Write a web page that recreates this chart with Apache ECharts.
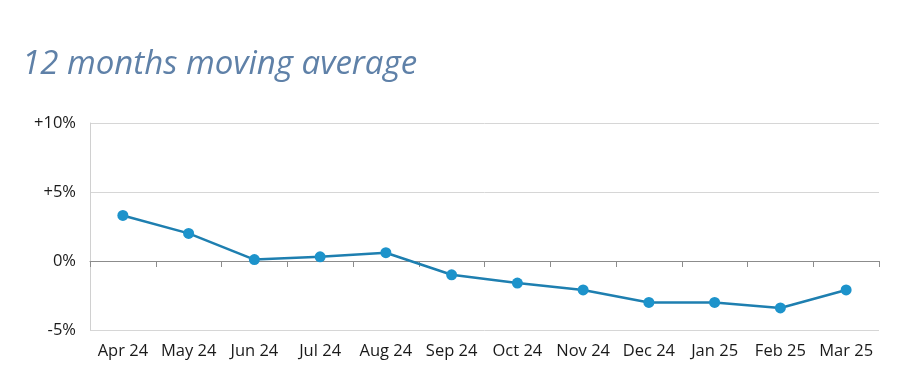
<!DOCTYPE html>
<html>
<head>
<meta charset="utf-8">
<script src="https://cdn.jsdelivr.net/npm/echarts@6/dist/echarts.min.js"></script>
<style>html,body{margin:0;padding:0;background:#fff;}#c{width:900px;height:390px;}</style>
</head>
<body>
<div id="c"></div>
<script>
var titleText = '12 months moving average';
var categories = ['Apr 24','May 24','Jun 24','Jul 24','Aug 24','Sep 24','Oct 24','Nov 24','Dec 24','Jan 25','Feb 25','Mar 25'];
var values = [3.3, 2.0, 0.1, 0.3, 0.6, -1.0, -1.6, -2.1, -3.0, -3.0, -3.4, -2.1];
var yTicks = {'10':'+10%','5':'+5%','0':'0%','-5':'-5%'};

var chart = echarts.init(document.getElementById('c'), null, {renderer:'canvas'});
chart.setOption({
  animation: false,
  backgroundColor: '#fff',
  title: {
    text: titleText, left: 17, top: 43,
    textStyle: {fontFamily: 'Open Sans', fontStyle: 'italic', fontWeight: 'normal', fontSize: 33, color: '#5f81a8'}
  },
  grid: {left: 90, right: 21, top: 123, bottom: 60},
  xAxis: [{
    type: 'category', data: categories, boundaryGap: true,
    axisLine: {show: false, onZero: false}, axisTick: {show: false},
    axisLabel: {fontFamily: 'Open Sans', fontSize: 16.5, color: '#1a1a1a', margin: 13, interval: 0}
  }, {
    type: 'category', data: categories, boundaryGap: true, position: 'bottom',
    axisLine: {show: true, onZero: true, lineStyle: {color: '#8c8c8c', width: 1}},
    axisTick: {show: true, length: 6, inside: false, lineStyle: {color: '#8c8c8c'}},
    axisLabel: {show: false}
  }],
  yAxis: {
    type: 'value', min: -5, max: 10, interval: 5,
    axisLine: {show: true, lineStyle: {color: '#d0d0d0'}},
    axisTick: {show: false},
    splitLine: {lineStyle: {color: '#d6d6d6'}},
    axisLabel: {fontFamily: 'Open Sans', fontSize: 16.5, color: '#1a1a1a', margin: 14,
      formatter: function(v){ return yTicks[String(v)]; }}
  },
  series: [{
    type: 'line', data: values, xAxisIndex: 0,
    symbol: 'circle', symbolSize: 11,
    lineStyle: {color: '#1e7fb0', width: 2.5},
    itemStyle: {color: '#1d93cb'}
  }]
});
</script>
</body>
</html>
